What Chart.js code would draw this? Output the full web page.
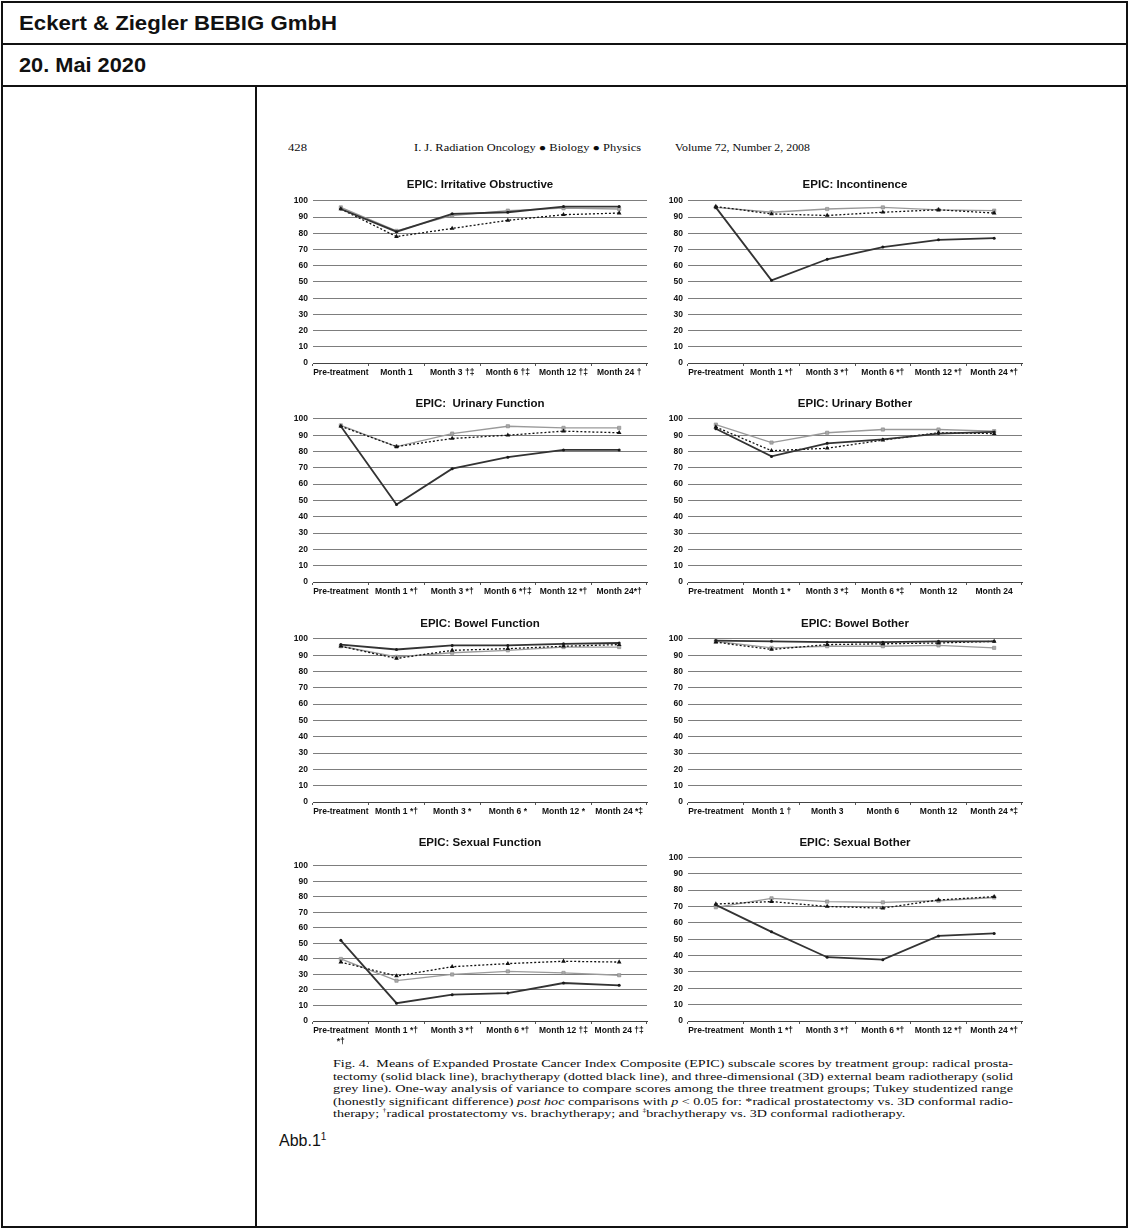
<!DOCTYPE html>
<html>
<head>
<meta charset="utf-8">
<script src="https://cdn.jsdelivr.net/npm/chart.js@4.4.1/dist/chart.umd.min.js"></script>
<style>
  body { margin: 0; background: #fff; width: 1129px; height: 1229px; position: relative; overflow: hidden;
         font-family: "Liberation Sans", Arial, sans-serif; color: #111; }
  .abs { position: absolute; }
  .frame { left: 1px; top: 1px; width: 1123px; height: 1223px; border: 2px solid #111; }
  .hl { height: 2px; background: #111; }
  .vl { width: 2px; background: #111; }
  .head { font-weight: bold; font-size: 20px; line-height: 24px; }
  .fit { white-space: nowrap; transform-origin: 0 50%; display: inline-block; }
  .serif { font-family: "Liberation Serif", "Times New Roman", serif; color: #0c0c0c; }
  .cap { font-size: 10.8px; line-height: 12.5px; height: 12.5px; }
  canvas { position: absolute; }
</style>
</head>
<body>
<div class="abs frame"></div>
<div class="abs hl" style="left:1px;top:43px;width:1127px"></div>
<div class="abs hl" style="left:1px;top:85px;width:1127px"></div>
<div class="abs vl" style="left:255px;top:85px;height:1143px"></div>

<div class="abs head fit" id="h1" style="left:19px;top:11px">Eckert &amp; Ziegler BEBIG GmbH</div>
<div class="abs head fit" id="h2" style="left:19px;top:53px">20. Mai 2020</div>

<div class="abs serif fit" id="j1" style="left:288px;top:141px;font-size:10px;line-height:14px">428</div>
<div class="abs serif fit" id="j2" style="left:414px;top:141px;font-size:10px;line-height:14px">I. J. Radiation Oncology ● Biology ● Physics</div>
<div class="abs serif fit" id="j3" style="left:675px;top:141px;font-size:10px;line-height:14px">Volume 72, Number 2, 2008</div>

<div id="charts"></div>

<div class="abs serif" style="left:333px;top:1057px">
  <div class="cap"><span class="fit cl">Fig. 4.&nbsp; Means of Expanded Prostate Cancer Index Composite (EPIC) subscale scores by treatment group: radical prosta-</span></div>
  <div class="cap"><span class="fit cl">tectomy (solid black line), brachytherapy (dotted black line), and three-dimensional (3D) external beam radiotherapy (solid</span></div>
  <div class="cap"><span class="fit cl">grey line). One-way analysis of variance to compare scores among the three treatment groups; Tukey studentized range</span></div>
  <div class="cap"><span class="fit cl">(honestly significant difference) <i>post hoc</i> comparisons with <i>p</i> &lt; 0.05 for: *radical prostatectomy vs. 3D conformal radio-</span></div>
  <div class="cap"><span class="fit" id="clast">therapy; <sup style="font-size:6px;line-height:0">†</sup>radical prostatectomy vs. brachytherapy; and <sup style="font-size:6px;line-height:0">‡</sup>brachytherapy vs. 3D conformal radiotherapy.</span></div>
</div>

<div class="abs" style="left:279px;top:1131px;font-size:16px;line-height:20px">Abb.1<sup style="font-size:10px;line-height:0">1</sup></div>

<script>
// EPIC subscale means (RP = radical prostatectomy, BT = brachytherapy, D3 = 3D conformal RT)
const irritativeLabels = ['Pre-treatment', 'Month 1', 'Month 3 †‡', 'Month 6 †‡', 'Month 12 †‡', 'Month 24 †'];
const irritativeRP = [95, 81, 92, 93, 96.5, 96.5];
const irritativeBT = [95, 78, 83, 88, 91.5, 92.5];
const irritative3D = [96, 81.5, 91, 94, 95.5, 95];

const incontinenceLabels = ['Pre-treatment', 'Month 1 *†', 'Month 3 *†', 'Month 6 *†', 'Month 12 *†', 'Month 24 *†'];
const incontinenceRP = [96, 51, 64, 71.5, 76, 77];
const incontinenceBT = [96.5, 92, 91, 93, 94.5, 92.5];
const incontinence3D = [96, 93, 95, 96, 94.5, 94];

const urinaryFunctionLabels = ['Pre-treatment', 'Month 1 *†', 'Month 3 *†', 'Month 6 *†‡', 'Month 12 *†', 'Month 24*†'];
const urinaryFunctionRP = [95.5, 47.5, 69.5, 76.5, 81, 81];
const urinaryFunctionBT = [95.5, 83, 88, 90, 92.5, 91.5];
const urinaryFunction3D = [96, 83, 91, 95.5, 94.5, 94.5];

const urinaryBotherLabels = ['Pre-treatment', 'Month 1 *', 'Month 3 *‡', 'Month 6 *‡', 'Month 12', 'Month 24'];
const urinaryBotherRP = [94, 77, 85, 87.5, 91, 92];
const urinaryBotherBT = [95, 80.5, 82, 87, 91.5, 91];
const urinaryBother3D = [96.5, 85.5, 91.5, 93.5, 93.5, 92.5];

const bowelFunctionLabels = ['Pre-treatment', 'Month 1 *†', 'Month 3 *', 'Month 6 *', 'Month 12 *', 'Month 24 *‡'];
const bowelFunctionRP = [96.5, 93.5, 96, 96, 97, 97.5];
const bowelFunctionBT = [95.5, 88, 93, 94, 95.5, 96.5];
const bowelFunction3D = [95.5, 89, 91.5, 93, 95, 95];

const bowelBotherLabels = ['Pre-treatment', 'Month 1 †', 'Month 3', 'Month 6', 'Month 12', 'Month 24 *‡'];
const bowelBotherRP = [99, 98.5, 98, 98, 98.5, 98.5];
const bowelBotherBT = [98, 93.5, 96.5, 97, 97.5, 98.5];
const bowelBother3D = [98.5, 94.5, 95.5, 95.5, 96, 94.5];

const sexualFunctionLabels = [['Pre-treatment', '*†'], 'Month 1 *†', 'Month 3 *†', 'Month 6 *†', 'Month 12 †‡', 'Month 24 †‡'];
const sexualFunctionRP = [52, 11.5, 17, 18, 24.5, 23];
const sexualFunctionBT = [38, 29, 35, 37, 38.5, 38];
const sexualFunction3D = [40, 26, 30, 32, 31, 29.5];

const sexualBotherLabels = ['Pre-treatment', 'Month 1 *†', 'Month 3 *†', 'Month 6 *†', 'Month 12 *†', 'Month 24 *†'];
const sexualBotherRP = [71, 54.5, 39, 37.5, 52, 53.5];
const sexualBotherBT = [71.5, 73, 70, 69, 74, 76];
const sexualBother3D = [69.5, 75, 73, 72.5, 73.5, 75.5];

const yTicks = [0, 10, 20, 30, 40, 50, 60, 70, 80, 90, 100];

// plot-area placement of each panel on the page
const panels = [
  { title: 'EPIC: Irritative Obstructive', labels: irritativeLabels, rp: irritativeRP, bt: irritativeBT, d3: irritative3D, x: 313, y: 201, h: 162, gap: 16, xh: 20 },
  { title: 'EPIC: Incontinence', labels: incontinenceLabels, rp: incontinenceRP, bt: incontinenceBT, d3: incontinence3D, x: 688, y: 201, h: 162, gap: 16, xh: 20 },
  { title: 'EPIC:  Urinary Function', labels: urinaryFunctionLabels, rp: urinaryFunctionRP, bt: urinaryFunctionBT, d3: urinaryFunction3D, x: 313, y: 419, h: 163, gap: 15, xh: 20 },
  { title: 'EPIC: Urinary Bother', labels: urinaryBotherLabels, rp: urinaryBotherRP, bt: urinaryBotherBT, d3: urinaryBother3D, x: 688, y: 419, h: 163, gap: 15, xh: 20 },
  { title: 'EPIC: Bowel Function', labels: bowelFunctionLabels, rp: bowelFunctionRP, bt: bowelFunctionBT, d3: bowelFunction3D, x: 313, y: 639, h: 163, gap: 15, xh: 20 },
  { title: 'EPIC: Bowel Bother', labels: bowelBotherLabels, rp: bowelBotherRP, bt: bowelBotherBT, d3: bowelBother3D, x: 688, y: 639, h: 163, gap: 15, xh: 20 },
  { title: 'EPIC: Sexual Function', labels: sexualFunctionLabels, rp: sexualFunctionRP, bt: sexualFunctionBT, d3: sexualFunction3D, x: 313, y: 866, h: 155, gap: 23, xh: 30 },
  { title: 'EPIC: Sexual Bother', labels: sexualBotherLabels, rp: sexualBotherRP, bt: sexualBotherBT, d3: sexualBother3D, x: 688, y: 857, h: 164, gap: 14.5, xh: 20 }
];

const YW = 30;        // fixed y axis width (also used as an empty right margin so the title centres on the plot)
const PW = 334;       // plot width
const TITLE_SIZE = 11.5;
const holder = document.getElementById('charts');

panels.forEach(p => {
  const titleH = TITLE_SIZE * 1.2;
  const padBottom = p.gap - titleH / 2;
  const th = titleH + 3 + padBottom;
  const canvas = document.createElement('canvas');
  canvas.width = YW + PW + YW;
  canvas.height = Math.round(th + p.h + p.xh);
  canvas.style.left = (p.x - YW) + 'px';
  canvas.style.top = Math.round(p.y - th) + 'px';
  holder.appendChild(canvas);

  new Chart(canvas, {
    type: 'line',
    data: {
      labels: p.labels,
      datasets: [
        { label: 'Radical prostatectomy', data: p.rp, borderColor: '#333', borderWidth: 1.8,
          pointStyle: 'circle', pointRadius: 1.5, pointBackgroundColor: '#1a1a1a', pointBorderWidth: 0, clip: false },
        { label: 'Brachytherapy', data: p.bt, borderColor: '#111', borderWidth: 1.3, borderDash: [2, 2],
          pointStyle: 'triangle', pointRadius: 2.7, pointBackgroundColor: '#111', pointBorderColor: '#111', pointBorderWidth: 0, clip: false },
        { label: '3D conformal radiotherapy', data: p.d3, borderColor: '#9a9a9a', borderWidth: 1.3,
          pointStyle: 'rect', pointRadius: 2.3, pointBackgroundColor: '#a9a9a9', pointBorderColor: '#888', pointBorderWidth: 0.6, clip: false }
      ]
    },
    options: {
      responsive: false,
      animation: false,
      layout: { padding: 0 },
      plugins: {
        legend: { display: false },
        tooltip: { enabled: false },
        title: {
          display: true, text: p.title, color: '#111',
          font: { size: TITLE_SIZE, weight: 'bold' },
          padding: { top: 3, bottom: padBottom }
        }
      },
      scales: {
        x: {
          offset: true,
          grid: { offset: true, drawOnChartArea: false, drawTicks: true, tickLength: 3, color: '#555' },
          border: { color: '#444', width: 1 },
          ticks: { color: '#111', font: { size: 8.5, weight: 'bold' }, maxRotation: 0, minRotation: 0, autoSkip: false, padding: 2 },
          afterFit: s => { s.height = p.xh; }
        },
        y: {
          min: yTicks[0], max: yTicks[yTicks.length - 1],
          afterBuildTicks: s => { s.ticks = yTicks.map(v => ({ value: v })); },
          ticks: { color: '#111', font: { size: 8.5, weight: 'bold' }, padding: 5 },
          grid: { color: '#7d7d7d', lineWidth: 1, drawTicks: false },
          border: { display: false },
          afterFit: s => { s.width = YW; }
        },
        yPad: {
          position: 'right', min: 0, max: 100,
          grid: { display: false, drawOnChartArea: false },
          ticks: { display: false },
          border: { display: false },
          afterFit: s => { s.width = YW; }
        }
      }
    }
  });
});

// squeeze / stretch the page text to the widths it has in the scan
function fit(el, w) {
  const nat = el.getBoundingClientRect().width;
  const k = w / nat;
  el.style.transform = 'scaleX(' + k + ')';
  return k;
}
fit(document.getElementById('h1'), 318);
fit(document.getElementById('h2'), 127);
fit(document.getElementById('j1'), 19);
fit(document.getElementById('j2'), 227);
fit(document.getElementById('j3'), 135);
let ks = [];
document.querySelectorAll('.cl').forEach(el => ks.push(fit(el, 680)));
const avg = ks.reduce((a, b) => a + b, 0) / ks.length;
document.getElementById('clast').style.transform = 'scaleX(' + avg + ')';
</script>
</body>
</html>
